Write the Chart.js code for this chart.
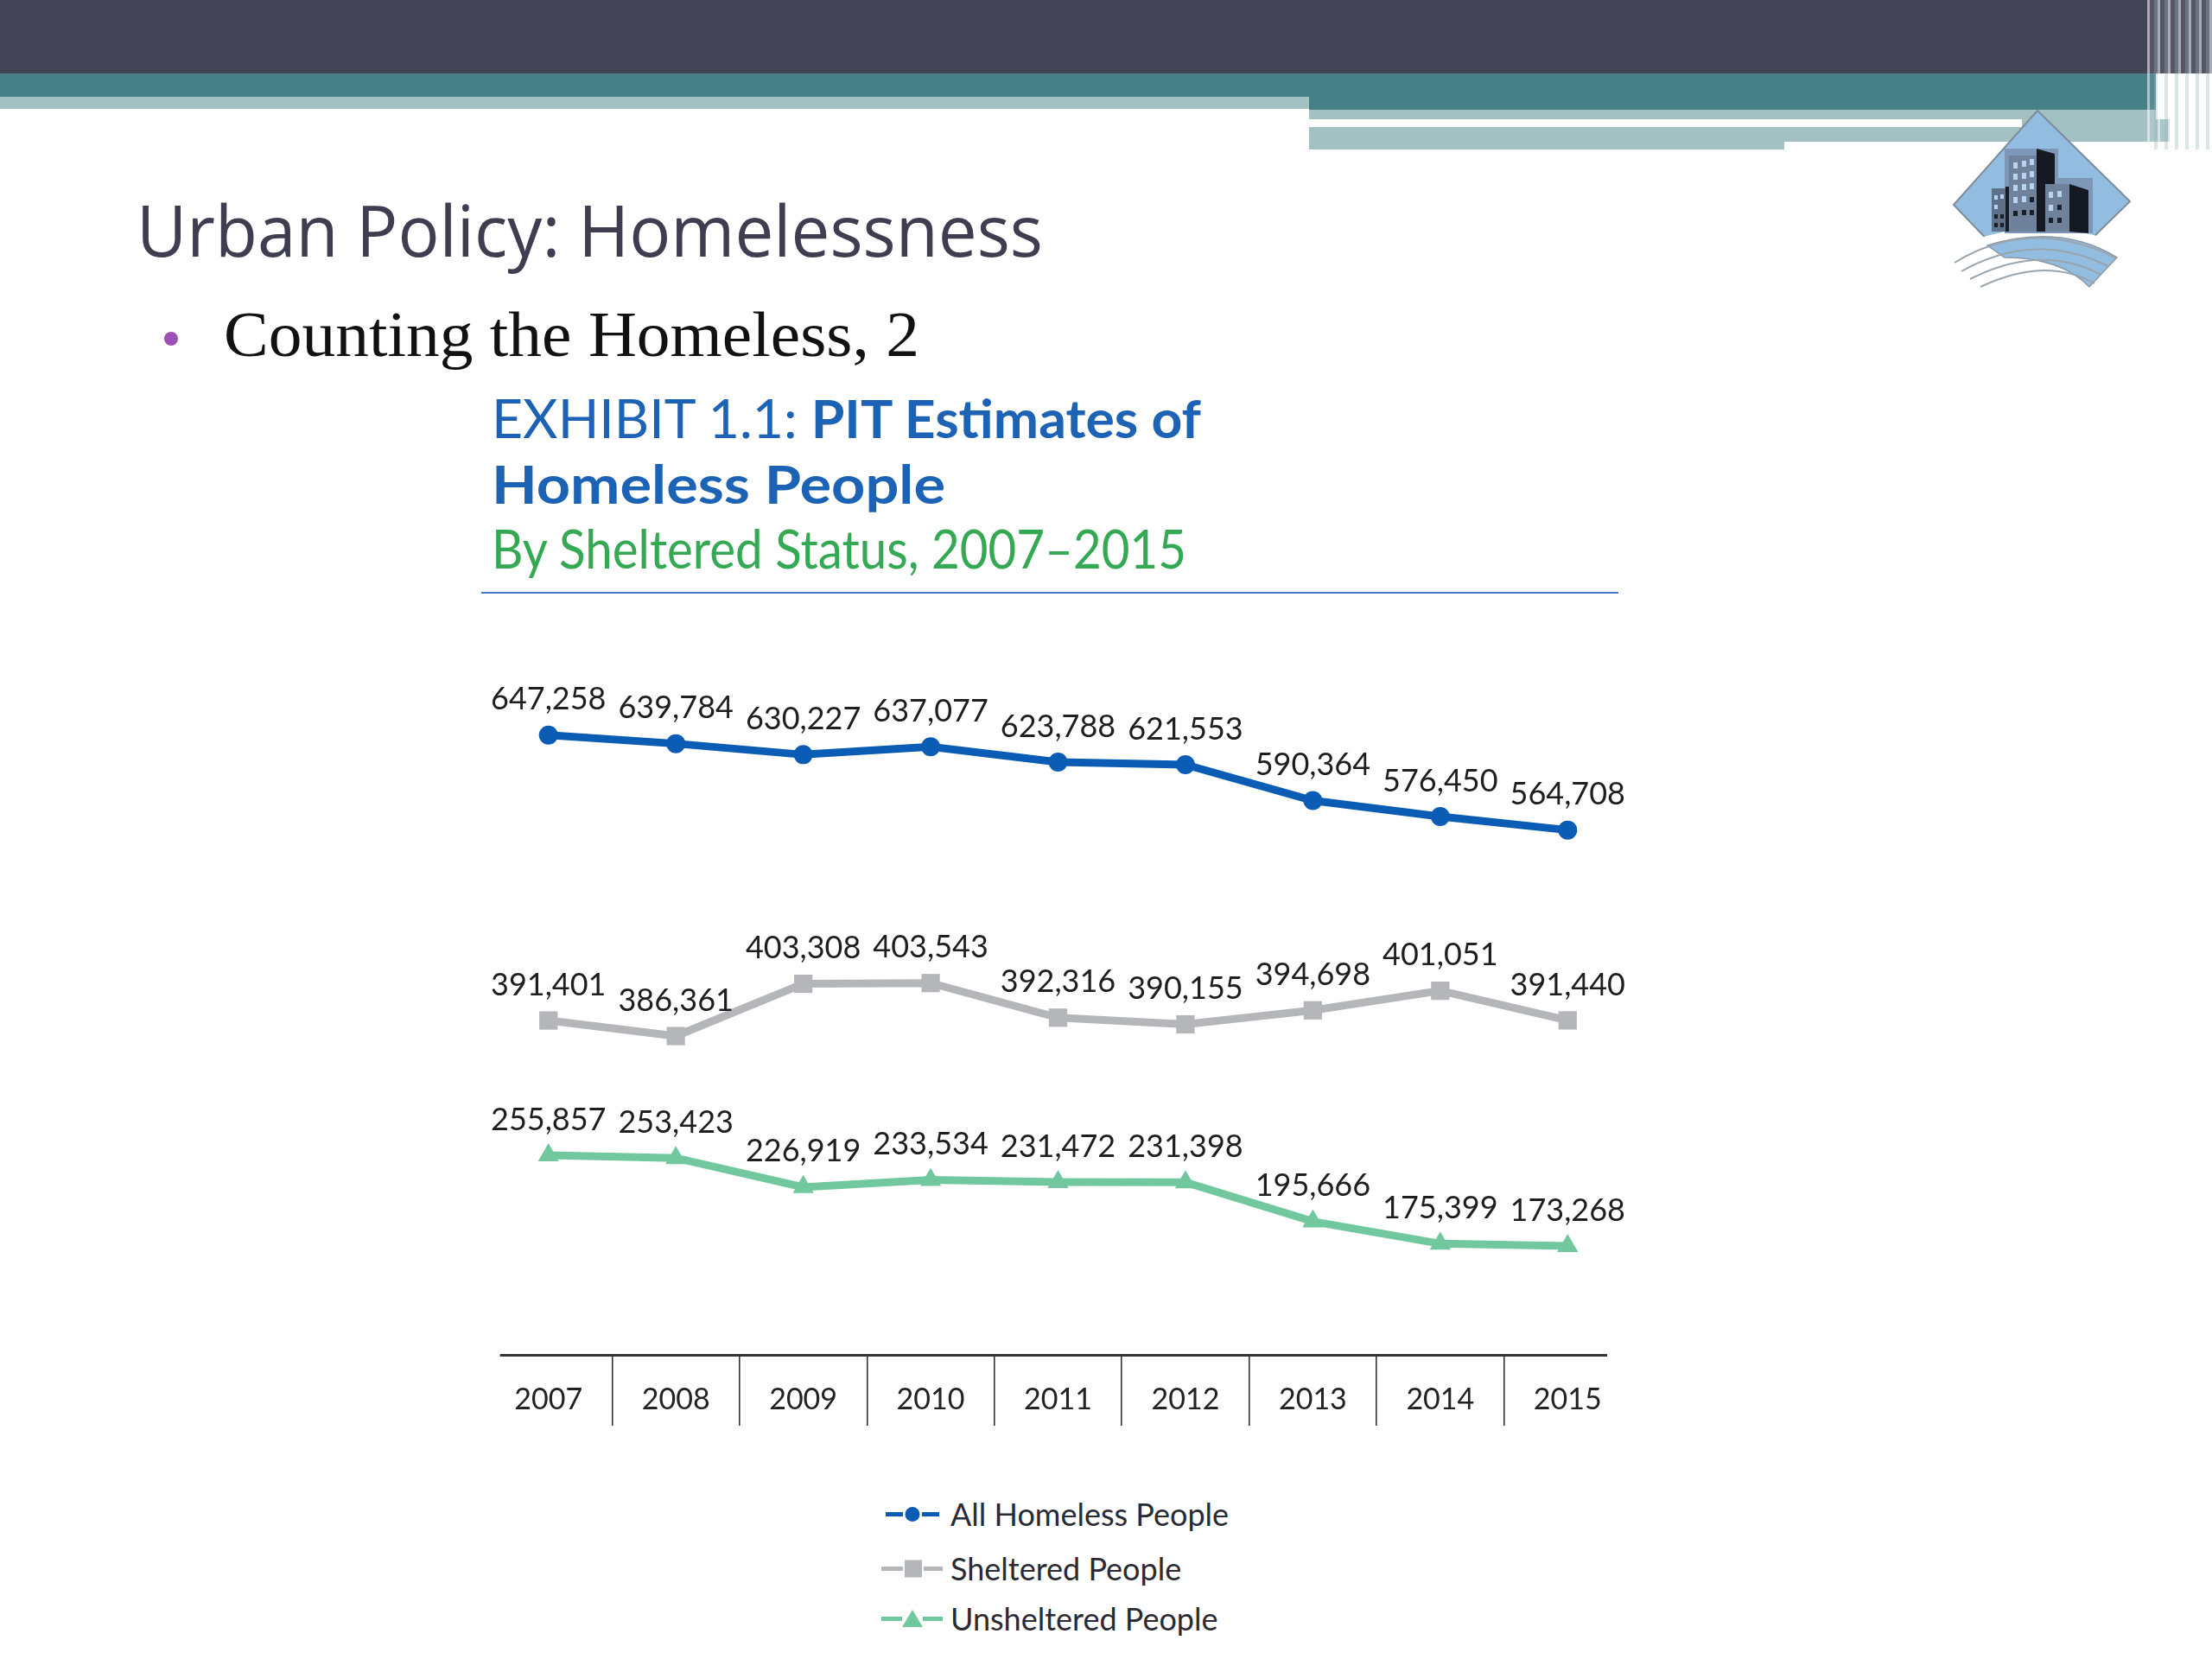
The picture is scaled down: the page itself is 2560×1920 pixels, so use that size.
<!DOCTYPE html>
<html>
<head>
<meta charset="utf-8">
<script src="https://cdn.jsdelivr.net/npm/chart.js@4.4.1/dist/chart.umd.min.js"></script>
<style>
html,body{margin:0;padding:0;background:#fff;}
body{width:2560px;height:1920px;position:relative;overflow:hidden;font-family:Lato,sans-serif;}
.abs{position:absolute;white-space:nowrap;line-height:1;transform-origin:0 0;}
#title{left:158px;top:223px;font-family:'Open Sans',sans-serif;font-size:83px;color:#3e3e50;}
#bullet{left:190px;top:384px;width:16px;height:16px;border-radius:50%;background:#9c50b4;}
#sub{left:259px;top:350px;font-family:'Liberation Serif',serif;font-size:74px;color:#111;}
.ex{font-family:Lato,sans-serif;font-size:61px;color:#1c62b5;left:569px;}
#ex1{top:453px;}
#ex2{top:529px;font-weight:700;}
#ex3{top:604px;color:#35a853;}
#rule{left:557px;top:685px;width:1316px;height:2px;background:#3f7cc4;}
#chartBox{position:absolute;left:561px;top:700px;width:1327px;height:950px;}
.leg{position:absolute;left:1018px;height:40px;display:flex;align-items:center;}
.leg span{font-family:Lato,sans-serif;font-size:36px;color:#2a2a35;margin-left:6px;line-height:1;}
</style>
</head>
<body>
<!-- header bands -->
<div class="abs" style="left:0;top:0;width:2560px;height:85px;background:#434356;"></div>
<div class="abs" style="left:0;top:85px;width:1515px;height:27px;background:#467f86;"></div>
<div class="abs" style="left:0;top:112px;width:1515px;height:14px;background:#a3c0c3;"></div>
<div class="abs" style="left:1515px;top:85px;width:980px;height:42px;background:#467f86;"></div>
<div class="abs" style="left:1515px;top:127px;width:980px;height:11px;background:#a3c0c3;"></div>
<div class="abs" style="left:1515px;top:147px;width:550px;height:26px;background:#a3c0c3;"></div>
<div class="abs" style="left:2065px;top:147px;width:446px;height:17px;background:#a3c0c3;"></div>
<div class="abs" style="left:2340px;top:138px;width:171px;height:10px;background:#a3c0c3;"></div>
<div class="abs" style="left:2485px;top:0;width:75px;height:173px;background:repeating-linear-gradient(90deg,rgba(255,255,255,0.55) 0 3px,rgba(255,255,255,0.1) 3px 8px,rgba(160,190,195,0.4) 8px 12px);"></div>

<!-- logo -->
<svg class="abs" style="left:2240px;top:110px" width="250" height="250" viewBox="2240 110 250 250">
  <polygon points="2358,128 2465,233 2358,338 2261,237" fill="#93bde0" stroke="#7d8c9a" stroke-width="2"/>
  <path d="M2250,292 Q2358,238 2475,290 L2475,360 L2250,360 Z" fill="#fff"/>
  <rect x="2320" y="172" width="62" height="98" fill="#7d97b8"/>
  <rect x="2362" y="206" width="60" height="64" fill="#7d97b8"/>
  <rect x="2305" y="218" width="22" height="50" fill="#5f7089"/>
  <rect x="2321" y="216" width="8" height="52" fill="#161b24"/>
  <rect x="2325" y="180" width="32" height="88" fill="#6f819b"/>
  <polygon points="2357,172 2378,178 2378,268 2357,268" fill="#151a22"/>
  <rect x="2367" y="213" width="28" height="55" fill="#6f819b"/>
  <polygon points="2395,213 2417,220 2417,270 2395,268" fill="#151a22"/>
  <g fill="#b8d3f0">
    <rect x="2330" y="188" width="5" height="7"/><rect x="2340" y="186" width="5" height="7"/><rect x="2349" y="184" width="5" height="7"/>
    <rect x="2330" y="201" width="5" height="7"/><rect x="2340" y="200" width="5" height="7"/><rect x="2349" y="198" width="5" height="7"/>
    <rect x="2330" y="214" width="5" height="7"/><rect x="2340" y="213" width="5" height="7"/><rect x="2349" y="212" width="5" height="7"/>
    <rect x="2330" y="228" width="5" height="7"/><rect x="2340" y="227" width="5" height="7"/>
    <rect x="2371" y="222" width="5" height="7"/><rect x="2381" y="221" width="5" height="7"/>
    <rect x="2371" y="237" width="5" height="7"/>
    <rect x="2308" y="226" width="4" height="5"/><rect x="2315" y="225" width="4" height="5"/>
    <rect x="2308" y="237" width="4" height="5"/>
  </g>
  <g fill="#1a2028">
    <rect x="2349" y="228" width="5" height="6"/><rect x="2330" y="244" width="5" height="6"/><rect x="2340" y="243" width="5" height="6"/><rect x="2349" y="243" width="5" height="6"/>
    <rect x="2381" y="237" width="5" height="6"/><rect x="2371" y="252" width="5" height="6"/><rect x="2381" y="252" width="5" height="6"/>
    <rect x="2308" y="248" width="4" height="5"/><rect x="2315" y="248" width="4" height="5"/><rect x="2308" y="258" width="4" height="5"/><rect x="2315" y="258" width="4" height="5"/>
  </g>
  <path d="M2300,284 Q2385,258 2450,298 L2418,332 Q2385,298 2320,298 Z" fill="#93bde0" stroke="#8a98a6" stroke-width="1.5"/>
  <g fill="none" stroke="#9aa4ad" stroke-width="2">
    <path d="M2262,304 Q2350,250 2448,298"/>
    <path d="M2270,314 Q2355,266 2440,308"/>
    <path d="M2280,323 Q2362,281 2432,318"/>
    <path d="M2292,332 Q2368,296 2424,328"/>
  </g>
</svg>

<div id="title" class="abs fit" data-w="1049">Urban Policy: Homelessness</div>
<div id="bullet" class="abs"></div>
<div id="sub" class="abs fit" data-w="805">Counting the Homeless, 2</div>
<div id="ex1" class="abs ex fit" data-w="821"><span style="font-weight:400">EXHIBIT 1.1: </span><span style="font-weight:700">PIT Estimates of</span></div>
<div id="ex2" class="abs ex fit" data-w="525">Homeless People</div>
<div id="ex3" class="abs ex fit" data-w="804">By Sheltered Status, 2007–2015</div>
<div id="rule" class="abs"></div>

<div id="chartBox"><canvas id="c" width="1327" height="950"></canvas></div>

<div class="leg" style="top:1732px;">
  <svg width="76" height="30" viewBox="0 0 76 30"><rect x="7" y="13" width="20" height="5" fill="#0b5cb5"/><rect x="49" y="13" width="20" height="5" fill="#0b5cb5"/><circle cx="38" cy="15.5" r="8.5" fill="#0b5cb5"/></svg>
  <span>All Homeless People</span>
</div>
<div class="leg" style="top:1795px;">
  <svg width="76" height="30" viewBox="0 0 76 30"><rect x="2" y="13" width="25" height="5" fill="#b4b6b9"/><rect x="51" y="13" width="22" height="5" fill="#b4b6b9"/><rect x="29" y="5.5" width="20" height="20" fill="#b4b6b9"/></svg>
  <span>Sheltered People</span>
</div>
<div class="leg" style="top:1853px;">
  <svg width="76" height="30" viewBox="0 0 76 30"><rect x="2" y="13" width="24" height="5" fill="#72c89e"/><rect x="50" y="13" width="23" height="5" fill="#72c89e"/><polygon points="38,5 50,25 26,25" fill="#72c89e"/></svg>
  <span>Unsheltered People</span>
</div>

<script>
const years = ['2007','2008','2009','2010','2011','2012','2013','2014','2015'];
const allHomeless = [647258,639784,630227,637077,623788,621553,590364,576450,564708];
const sheltered = [391401,386361,403308,403543,392316,390155,394698,401051,391440];
const unsheltered = [255857,253423,226919,233534,231472,231398,195666,175399,173268];
const seriesNames = ['All Homeless People','Sheltered People','Unsheltered People'];

function fitTexts(){
  document.querySelectorAll('.fit').forEach(el=>{
    el.style.transform='none';
    const w = el.getBoundingClientRect().width;
    el.style.transform = 'scaleX(' + (parseFloat(el.dataset.w)/w) + ')';
  });
}

const valueLabels = {
  id:'valueLabels',
  afterDatasetsDraw(chart){
    const ctx = chart.ctx;
    ctx.save();
    ctx.font = '36px Lato';
    ctx.fillStyle = '#1e1e1e';
    ctx.textAlign = 'center';
    ctx.textBaseline = 'middle';
    chart.data.datasets.forEach((ds,i)=>{
      const meta = chart.getDatasetMeta(i);
      meta.data.forEach((pt,j)=>{
        ctx.fillText(ds.data[j].toLocaleString('en-US'), pt.x, pt.y - 41);
      });
    });
    ctx.restore();
  }
};

// axis baseline drawn from the category scale, slightly inset from the outer category edges
const axisLine = {
  id:'axisLine',
  afterDraw(chart){
    const xs = chart.scales.x;
    const n = xs.ticks.length;
    const step = xs.getPixelForValue(1) - xs.getPixelForValue(0);
    const x0 = xs.getPixelForValue(0) - 0.38 * step;
    const x1 = xs.getPixelForValue(n - 1) + 0.31 * step;
    const ctx = chart.ctx;
    ctx.save();
    ctx.strokeStyle = '#333';
    ctx.lineWidth = 3;
    ctx.beginPath();
    ctx.moveTo(x0, xs.top + 0.5);
    ctx.lineTo(x1, xs.top + 0.5);
    ctx.stroke();
    ctx.restore();
  }
};

function makeChart(){
  fitTexts();
  new Chart(document.getElementById('c'), {
    type:'line',
    data:{
      labels: years,
      datasets:[
        {label:seriesNames[0], data:allHomeless, yAxisID:'yAll', borderColor:'#0b5cb5', backgroundColor:'#0b5cb5',
         borderWidth:9, pointStyle:'circle', pointRadius:11, pointBorderWidth:0, tension:0},
        {label:seriesNames[1], data:sheltered, yAxisID:'yShel', borderColor:'#b4b6b9', backgroundColor:'#b4b6b9',
         borderWidth:9, pointStyle:'rect', pointRadius:15, pointBorderWidth:0, tension:0},
        {label:seriesNames[2], data:unsheltered, yAxisID:'yUnsh', borderColor:'#72c89e', backgroundColor:'#72c89e',
         borderWidth:9, pointStyle:'triangle', pointRadius:14, pointBorderWidth:0, tension:0}
      ]
    },
    options:{
      responsive:false,
      animation:false,
      devicePixelRatio:1,
      layout:{padding:0, autoPadding:false},
      plugins:{legend:{display:false}, tooltip:{enabled:false}, title:{display:false}},
      scales:{
        x:{
          type:'category',
          offset:true,
          grid:{offset:true, drawOnChartArea:false, drawTicks:true, tickLength:82, lineWidth:1.6,
                color: c => (c.index === 0 || c.index === undefined) ? 'rgba(0,0,0,0)' : '#333'},
          border:{display:false},
          ticks:{font:{family:'Lato', size:34}, color:'#222', padding:-50},
          afterFit: s => { s.height = 82; }
        },
        yAll:{type:'linear', display:false, min:108720, max:760380},
        yShel:{type:'linear', display:false, min:282920, max:526260},
        yUnsh:{type:'linear', display:false, min:74180, max:757110}
      }
    },
    plugins:[valueLabels, axisLine]
  });
}

Promise.all([
  document.fonts.load('36px Lato'),
  document.fonts.load('700 61px Lato'),
  document.fonts.load('83px "Open Sans"'),
  document.fonts.load('74px "Liberation Serif"')
]).then(makeChart, makeChart);
</script>
</body>
</html>
